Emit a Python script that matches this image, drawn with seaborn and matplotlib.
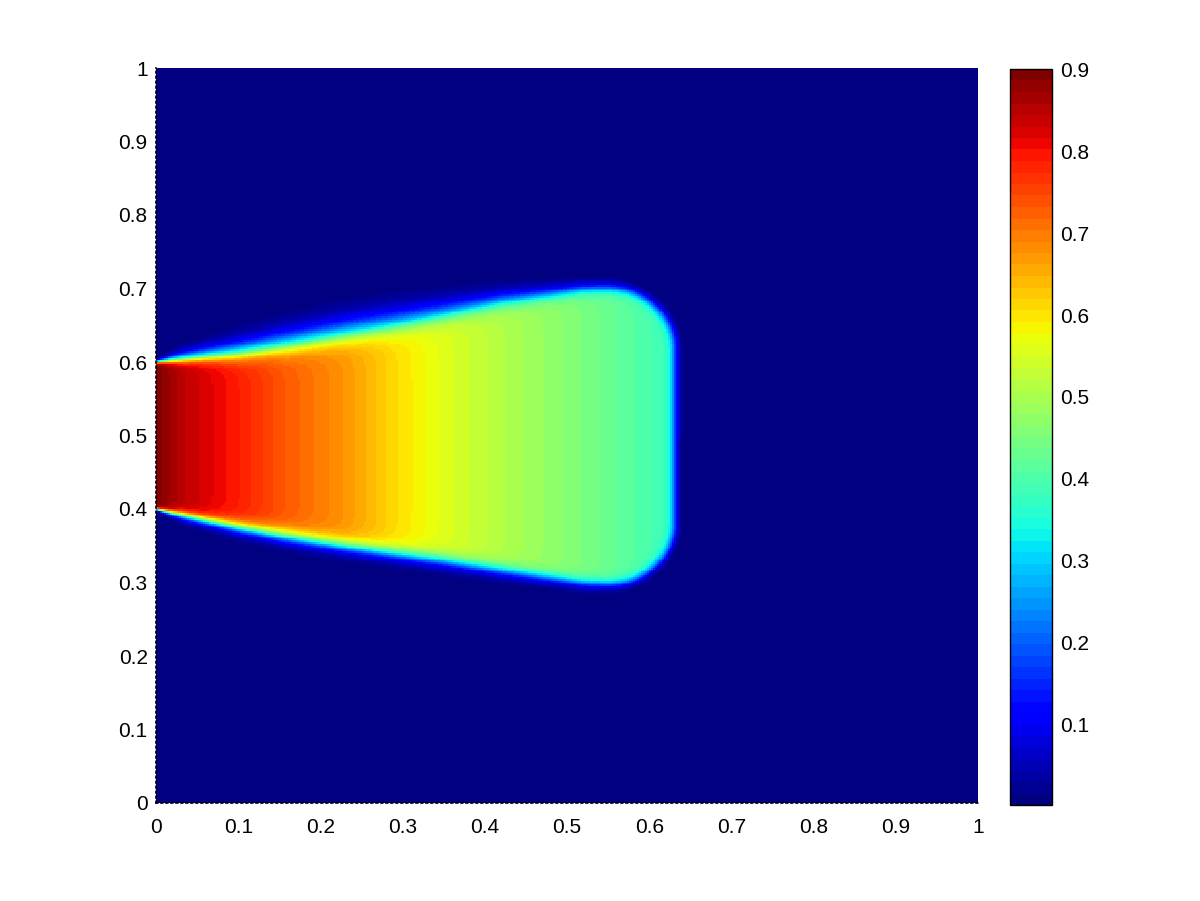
import numpy as np
import pandas as pd
import matplotlib
matplotlib.use("Agg")
import matplotlib.pyplot as plt
import seaborn as sns

# plume profile (x stations along the jet)
x_stations = [0.00, 0.03, 0.10, 0.16, 0.23, 0.29, 0.345, 0.42, 0.52, 0.58, 0.63]
center_values = [0.90, 0.85, 0.79, 0.73, 0.675, 0.61, 0.5625, 0.51, 0.45, 0.41, 0.38]
upper_edge = [0.600, 0.604, 0.613, 0.625, 0.640, 0.653, 0.666, 0.684, 0.700, 0.702, 0.702]
lower_edge = [0.400, 0.392, 0.375, 0.362, 0.349, 0.339, 0.330, 0.316, 0.299, 0.296, 0.296]
# fringe widths, inner side and outer (halo) side of each edge
upper_width_in = [0.002, 0.006, 0.012, 0.015, 0.016, 0.016, 0.015, 0.013, 0.010, 0.008, 0.007]
upper_width_out = [0.002, 0.010, 0.018, 0.022, 0.024, 0.023, 0.020, 0.015, 0.009, 0.008, 0.007]
lower_width_in = [0.002, 0.006, 0.010, 0.012, 0.012, 0.012, 0.012, 0.011, 0.009, 0.008, 0.007]
lower_width_out = [0.002, 0.007, 0.010, 0.011, 0.011, 0.011, 0.011, 0.010, 0.008, 0.007, 0.006]
front_x = 0.631
corner_radius = 0.085

tick_values = [0, 0.1, 0.2, 0.3, 0.4, 0.5, 0.6, 0.7, 0.8, 0.9, 1]
tick_labels = ["0", "0.1", "0.2", "0.3", "0.4", "0.5", "0.6", "0.7", "0.8", "0.9", "1"]
cbar_ticks = [0.1, 0.2, 0.3, 0.4, 0.5, 0.6, 0.7, 0.8, 0.9]
vmin, vmax = 0.001, 0.901

sns.set_theme(style="white")
plt.rcParams['font.family'] = ['Liberation Sans', 'DejaVu Sans']

# build the grid from the profile arrays
n = 400
xs = (np.arange(n) + 0.5) / n
X, Y = np.meshgrid(xs, xs)
c = np.interp(X, x_stations, center_values)
up = np.interp(X, x_stations, upper_edge)
lo = np.interp(X, x_stations, lower_edge)


def inside_dist(e_side, e_front, r):
    qx = r - e_front
    qy = r - e_side
    out = np.hypot(np.maximum(qx, 0), np.maximum(qy, 0)) + np.minimum(np.maximum(qx, qy), 0) - r
    return -out


d = np.minimum(inside_dist(up - Y, front_x - X, corner_radius),
               inside_dist(Y - lo, front_x - X, corner_radius))
top = Y > 0.5
w_in = np.where(top, np.interp(X, x_stations, upper_width_in), np.interp(X, x_stations, lower_width_in))
w_out = np.where(top, np.interp(X, x_stations, upper_width_out), np.interp(X, x_stations, lower_width_out))
w = np.where(d > 0, w_in, w_out)
field = c * 0.5 * (1 + np.tanh(d / w))
df = pd.DataFrame(field)

fig = plt.figure(figsize=(12, 9.01), dpi=100)
ax = fig.add_axes([156 / 1200, 98 / 901, 822 / 1200, 735 / 901])
cax = fig.add_axes([1010 / 1200, 96 / 901, 42 / 1200, 736 / 901])

cmap = matplotlib.colormaps["jet"].resampled(64)
sns.heatmap(df, ax=ax, cmap=cmap, vmin=vmin, vmax=vmax, cbar_ax=cax,
            xticklabels=False, yticklabels=False, rasterized=True)
ax.set_xlim(0, n)
ax.set_ylim(0, n)

ax.set_xticks([t * n for t in tick_values])
ax.set_xticklabels(tick_labels)
ax.set_yticks([t * n for t in tick_values])
ax.set_yticklabels(tick_labels)
ax.tick_params(axis="both", length=0, labelsize=15, colors="black")
ax.tick_params(axis="x", pad=11)
ax.tick_params(axis="y", pad=6)
for side in ["top", "right"]:
    ax.spines[side].set_visible(False)
for side in ["left", "bottom"]:
    ax.spines[side].set_visible(True)
    ax.spines[side].set_color("black")
    ax.spines[side].set_linestyle((0, (1, 2)))
    ax.spines[side].set_linewidth(1.2)
    ax.spines[side].set_zorder(5)

cbar = ax.collections[0].colorbar
cbar.outline.set_linewidth(1.0)
cbar.outline.set_edgecolor("black")
cbar.set_ticks(cbar_ticks)
cbar.set_ticklabels([str(t) for t in cbar_ticks])
cax.tick_params(direction="in", left=True, right=True, length=5, width=1,
                labelsize=15, colors="black", pad=6)

fig.savefig("out.png", dpi=100, facecolor="white")
